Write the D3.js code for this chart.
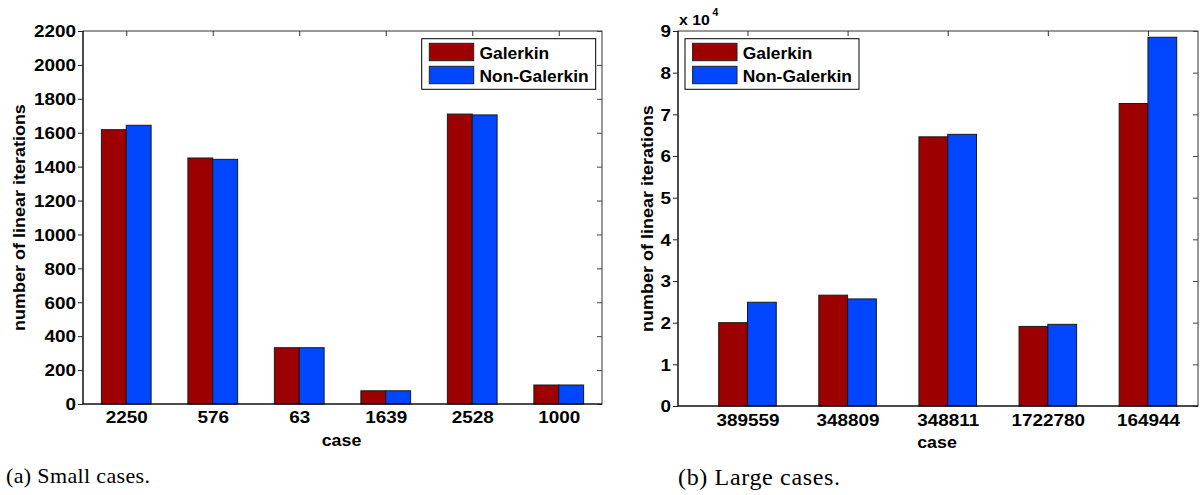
<!DOCTYPE html>
<html>
<head>
<meta charset="utf-8">
<script src="https://cdn.jsdelivr.net/npm/d3@7"></script>
<style>
  body { margin: 0; background: #fff; }
  svg { display: block; }
  text { font-family: "Liberation Sans", Arial, sans-serif; font-weight: bold; fill: #000; }
  .caption { font-family: "Liberation Serif", "Times New Roman", serif; font-weight: normal; }
</style>
</head>
<body>
<div id="chart"></div>
<script>
// data
var seriesNames = ["Galerkin", "Non-Galerkin"];
var smallCases = ["2250", "576", "63", "1639", "2528", "1000"];
var smallGalerkin = [1618, 1451, 332, 78, 1710, 112];
var smallNonGalerkin = [1644, 1443, 332, 78, 1705, 112];
var smallTicks = [0, 200, 400, 600, 800, 1000, 1200, 1400, 1600, 1800, 2000, 2200];

var largeCases = ["389559", "348809", "348811", "1722780", "164944"];
var largeGalerkin = [20000, 26600, 64600, 19100, 72600];
var largeNonGalerkin = [24900, 25700, 65200, 19600, 88500];
var largeTicks = [0, 10000, 20000, 30000, 40000, 50000, 60000, 70000, 80000, 90000];

var colors = ["#9c0000", "#0046ff"];

var svg = d3.select("#chart").append("svg")
    .attr("width", 1200)
    .attr("height", 495);

// stretch glyphs sideways a little, the original font is wider than Arial
function stretch(sel, k) {
  sel.each(function() {
    var t = d3.select(this);
    var x = +t.attr("x") || 0, y = +t.attr("y") || 0;
    t.attr("x", null).attr("y", null)
     .attr("transform", "translate(" + x + "," + y + ") scale(" + k + ",1)");
  });
}

function drawPanel(opt) {
  var g = svg.append("g");
  var n = opt.cases.length;

  var x = d3.scaleLinear().domain(opt.xlim).range([opt.left, opt.right]);
  var y = d3.scaleLinear().domain([0, opt.ymax]).range([opt.bottom, opt.top]);
  var idx = d3.range(1, n + 1);
  var gw = 0.575; // group width in category units

  // frame
  g.append("rect")
    .attr("x", opt.left).attr("y", opt.top)
    .attr("width", opt.right - opt.left).attr("height", opt.bottom - opt.top)
    .attr("fill", "none").attr("stroke", "#333").attr("stroke-width", 1);

  // top ticks (inward)
  g.append("g")
    .attr("transform", "translate(0," + opt.top + ")")
    .call(d3.axisTop(x).tickValues(idx).tickSize(-5).tickFormat(""))
    .call(function(a) { a.select(".domain").remove(); a.selectAll("line").attr("stroke", "#333"); });

  // right ticks (inward)
  g.append("g")
    .attr("transform", "translate(" + opt.right + ",0)")
    .call(d3.axisRight(y).tickValues(opt.ticks).tickSize(-5).tickFormat(""))
    .call(function(a) { a.select(".domain").remove(); a.selectAll("line").attr("stroke", "#444"); });

  // left axis
  var ya = g.append("g")
    .attr("transform", "translate(" + opt.left + ",0)")
    .call(d3.axisLeft(y).tickValues(opt.ticks).tickSize(5).tickPadding(2)
      .tickFormat(function(d) { return d / opt.div; }));
  ya.select(".domain").attr("stroke", "#000").attr("d", "M0," + opt.top + "V" + opt.bottom);
  ya.selectAll("line").attr("stroke", "#222");
  ya.selectAll("text").attr("font-size", 16).attr("dy", "0.36em");
  ya.attr("font-family", null);
  stretch(ya.selectAll("text"), 1.18);

  // bars
  var series = [opt.galerkin, opt.nonGalerkin];
  series.forEach(function(vals, s) {
    g.append("g").selectAll("rect")
      .data(vals).enter().append("rect")
        .attr("x", function(d, i) { return x(i + 1 - gw / 2 + s * gw / 2); })
        .attr("y", function(d) { return y(d); })
        .attr("width", x(gw / 2) - x(0))
        .attr("height", function(d) { return y(0) - y(d); })
        .attr("fill", colors[s])
        .attr("stroke", "#1a1a1a")
        .attr("stroke-width", 1);
  });

  // bottom axis
  var xa = g.append("g")
    .attr("transform", "translate(0," + opt.bottom + ")")
    .call(d3.axisBottom(x).tickValues(idx).tickSize(0).tickPadding(opt.xpad)
      .tickFormat(function(d) { return opt.cases[d - 1]; }));
  xa.attr("font-family", null);
  xa.select(".domain").attr("stroke", "#000").attr("d", "M" + opt.left + ",0H" + opt.right);
  xa.selectAll("text").attr("font-size", 16);
  stretch(xa.selectAll("text"), 1.18);

  // axis titles
  g.append("text")
    .attr("transform", "translate(" + opt.ylabX + "," + ((opt.top + opt.bottom) / 2) + ") rotate(-90) scale(1.09,1)")
    .attr("text-anchor", "middle")
    .attr("font-size", 16.5)
    .text("number of linear iterations");

  g.append("text")
    .attr("transform", "translate(" + ((opt.left + opt.right) / 2 - 1) + "," + opt.xlabY + ") scale(1.08,1)")
    .attr("text-anchor", "middle")
    .attr("font-size", 16.5)
    .text("case");

  // legend
  var lg = g.append("g").attr("transform", "translate(" + opt.legX + "," + (opt.top + 7.7) + ")");
  lg.append("rect")
    .attr("width", 174).attr("height", 50.6)
    .attr("fill", "#fff").attr("stroke", "#000").attr("stroke-width", 1);
  seriesNames.forEach(function(name, s) {
    lg.append("rect")
      .attr("x", 7.6).attr("y", 4.6 + s * 23)
      .attr("width", 44.4).attr("height", 17.4)
      .attr("fill", colors[s]).attr("stroke", "#222");
    lg.append("text")
      .attr("x", 57.8).attr("y", 20.6 + s * 23)
      .attr("font-size", 17.4)
      .text(name);
  });

  // caption
  g.append("text")
    .attr("class", "caption")
    .attr("x", opt.capX).attr("y", opt.capY)
    .attr("font-size", opt.capSize)
    .attr("textLength", opt.capLen)
    .text(opt.caption);

  return g;
}

drawPanel({
  cases: smallCases, galerkin: smallGalerkin, nonGalerkin: smallNonGalerkin,
  ticks: smallTicks, ymax: 2200, div: 1, xlim: [0.5, 6.5],
  left: 83, right: 602, top: 31, bottom: 404, xpad: 8,
  ylabX: 25, xlabY: 446, legX: 421.7,
  caption: "(a) Small cases.", capX: 6, capY: 483, capSize: 22, capLen: 144
});

var gb = drawPanel({
  cases: largeCases, galerkin: largeGalerkin, nonGalerkin: largeNonGalerkin,
  ticks: largeTicks, ymax: 90000, div: 10000, xlim: [0.306, 5.5],
  left: 678, right: 1198, top: 31, bottom: 406, xpad: 8.5,
  ylabX: 652.7, xlabY: 448, legX: 685,
  caption: "(b) Large cases.", capX: 678, capY: 485, capSize: 24, capLen: 162
});

// exponent marker
gb.append("text")
  .attr("transform", "translate(679,25) scale(1.02,1)")
  .attr("font-size", 15.5)
  .text("x 10");
gb.append("text")
  .attr("x", 712.5).attr("y", 16)
  .attr("font-size", 10.5)
  .text("4");
</script>
</body>
</html>
